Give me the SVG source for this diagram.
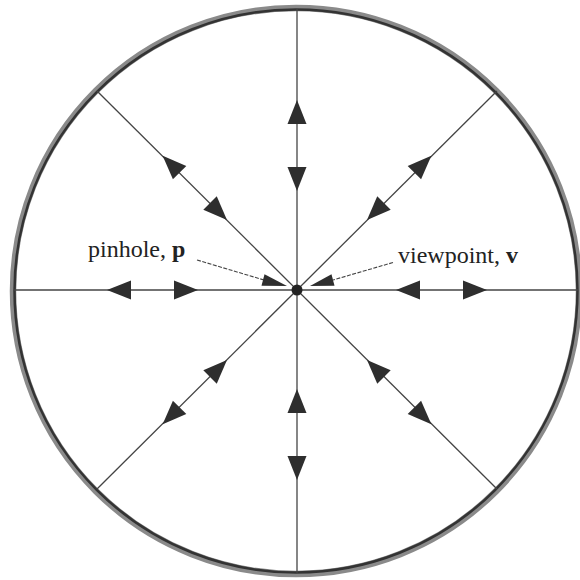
<svg xmlns="http://www.w3.org/2000/svg" xmlns:xlink="http://www.w3.org/1999/xlink" width="580" height="580" viewBox="0 0 580 580">
<style>
.ray{stroke:#444;stroke-width:1.3;fill:none}
.head{fill:#2e2e2e;stroke:none}
.leader{stroke:#444;stroke-width:1.1;stroke-dasharray:4 1.5;fill:none}
.lbl{font-family:"Liberation Serif","Times New Roman",serif;font-size:24px;fill:#222}
.b{font-weight:bold}
</style>
<defs>
<g id="pair">
<polygon class="head" points="99,0 123,-9.5 123,9.5"/>
<polygon class="head" points="166,-9.5 166,9.5 190,0"/>
</g>
</defs>
<rect width="580" height="580" fill="#fff"/>
<g id="boundary">
<circle cx="296" cy="291" r="283" fill="none" stroke="#8a8a8a" stroke-width="6.5"/>
<circle cx="296" cy="291" r="281.5" fill="none" stroke="#333" stroke-width="2.5"/>
</g>
<g id="connectors">
<line class="ray" x1="297" y1="9" x2="297" y2="573"/>
<line class="ray" x1="14" y1="290" x2="578" y2="290"/>
<line class="ray" x1="97" y1="91" x2="497" y2="489"/>
<line class="ray" x1="497" y1="91" x2="97" y2="489"/>
<use xlink:href="#pair" transform="translate(297,290) rotate(0)"/>
<use xlink:href="#pair" transform="translate(297,290) rotate(45)"/>
<use xlink:href="#pair" transform="translate(297,290) rotate(90)"/>
<use xlink:href="#pair" transform="translate(297,290) rotate(135)"/>
<use xlink:href="#pair" transform="translate(297,290) rotate(180)"/>
<use xlink:href="#pair" transform="translate(297,290) rotate(225)"/>
<use xlink:href="#pair" transform="translate(297,290) rotate(270)"/>
<use xlink:href="#pair" transform="translate(297,290) rotate(315)"/>
<line class="leader" x1="197" y1="260" x2="264" y2="280"/>
<polygon class="head" points="287,286 264.5,274.2 261.5,285.8"/>
<line class="leader" x1="393" y1="262.5" x2="333" y2="280"/>
<polygon class="head" points="310,286 334.5,285.8 331.5,274.2"/>
</g>
<g id="center">
<circle cx="297" cy="290" r="5.5" fill="#222"/>
</g>
<g id="pinhole-label">
<text class="lbl" x="88" y="257">pinhole, <tspan class="b">p</tspan></text>
</g>
<g id="viewpoint-label">
<text class="lbl" x="398" y="263">viewpoint, <tspan class="b">v</tspan></text>
</g>
</svg>
